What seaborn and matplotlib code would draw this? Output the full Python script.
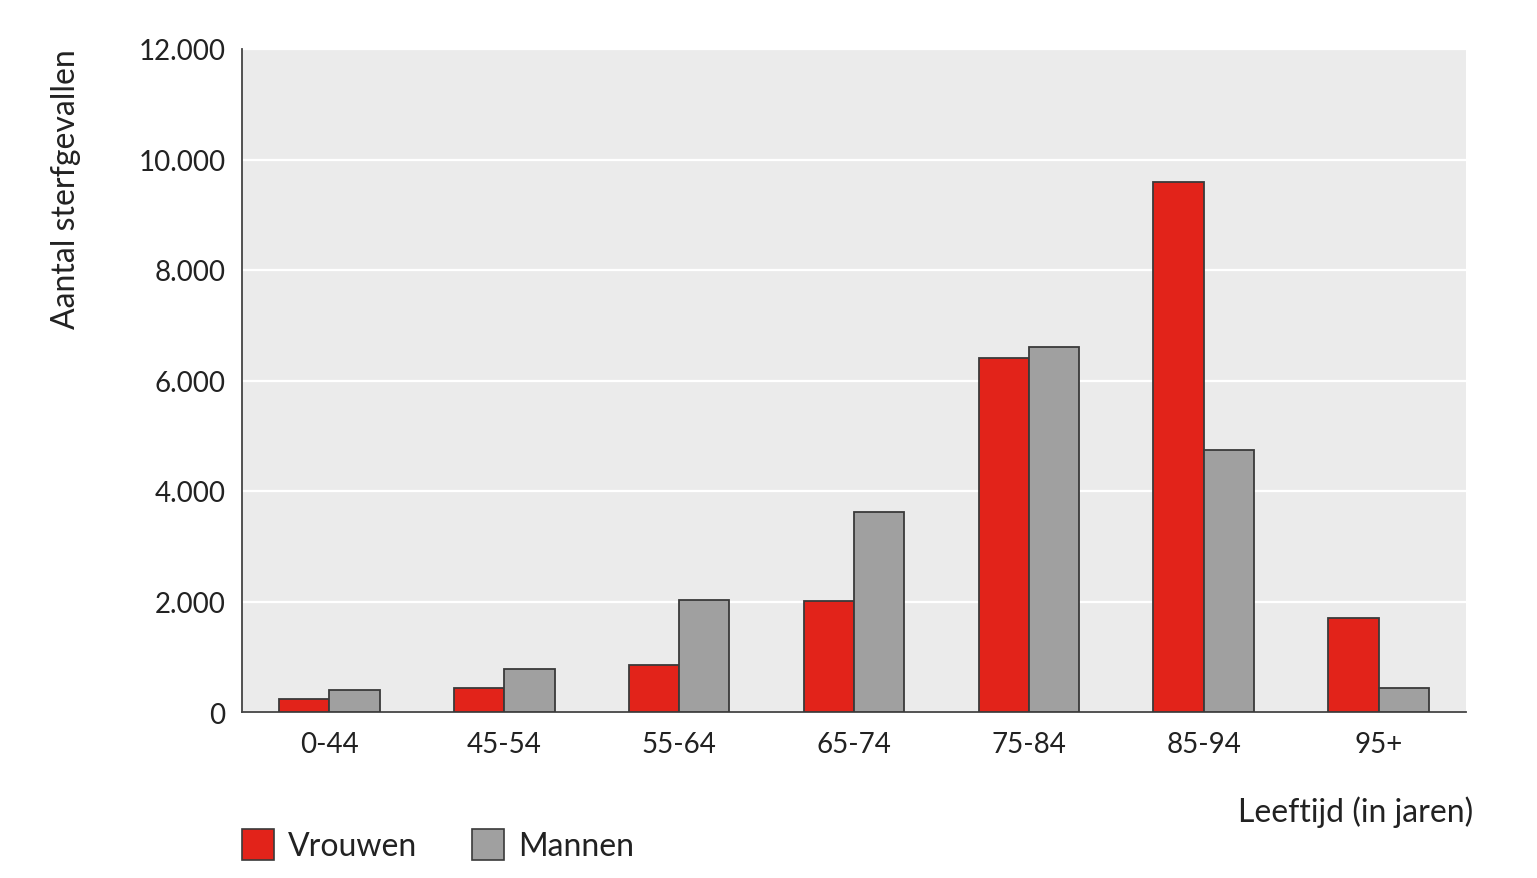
import matplotlib
matplotlib.use("Agg")
import matplotlib.pyplot as plt
from matplotlib.patches import Patch
from matplotlib.ticker import FuncFormatter, FixedLocator
import numpy as np
import pandas as pd
import seaborn as sns

# Sterfgevallen per leeftijdsgroep en geslacht
age_groups = ["0-44", "45-54", "55-64", "65-74", "75-84", "85-94", "95+"]
vrouwen = [230, 430, 850, 2010, 6410, 9600, 1710]
mannen = [400, 780, 2030, 3620, 6610, 4740, 440]
series_names = ["Vrouwen", "Mannen"]
y_ticks = [0, 2000, 4000, 6000, 8000, 10000, 12000]

RED = "#E2231A"
GREY = "#A0A0A0"
EDGE = "#3a3a3a"
TEXT = "#222222"

df = pd.DataFrame({
    "Leeftijd": age_groups * 2,
    "Aantal": vrouwen + mannen,
    "Geslacht": [series_names[0]] * len(age_groups) + [series_names[1]] * len(age_groups),
})

sns.set_theme(style="white")
plt.rcParams["font.family"] = ["Lato", "DejaVu Sans"]

fig = plt.figure(figsize=(15.37, 8.79), dpi=100)
ax = fig.add_axes([242 / 1537, 1 - 713 / 879, (1466 - 242) / 1537, (713 - 50) / 879])
ax.set_facecolor("#EBEBEB")

sns.barplot(
    data=df, x="Leeftijd", y="Aantal", hue="Geslacht", order=age_groups,
    hue_order=series_names, palette=[RED, GREY], saturation=1, width=0.575,
    edgecolor=EDGE, linewidth=1.3, legend=False, ax=ax, zorder=3,
)

ax.set_xlim(-0.5, len(age_groups) - 0.5)
ax.set_ylim(0, 12000)
ax.set_yticks(y_ticks)
ax.yaxis.set_major_formatter(FuncFormatter(lambda v, _: f"{int(v):,}".replace(",", ".")))
ax.grid(axis="y", color="white", linewidth=1.6, zorder=0)
ax.set_axisbelow(True)

# Category boundaries carry the x ticks; labels sit centred below each group
ax.xaxis.set_minor_locator(FixedLocator(np.arange(-0.5, len(age_groups) + 0.5, 1.0)))
ax.tick_params(axis="x", which="major", length=0, pad=14, labelsize=20, labelcolor=TEXT)
ax.tick_params(axis="x", which="minor", length=6, width=1.2, color="#444444", direction="out")
ax.tick_params(axis="y", which="major", length=7, width=1.2, color="#444444", direction="out",
               pad=5, labelsize=20, labelcolor=TEXT)

for side in ("top", "right"):
    ax.spines[side].set_visible(False)
for side in ("left", "bottom"):
    ax.spines[side].set_color("#444444")
    ax.spines[side].set_linewidth(1.3)

ax.set_xlabel("")
ax.set_ylabel("")
fig.text(66 / 1537, 1 - 189 / 879, "Aantal sterfgevallen", rotation=90,
         ha="center", va="center", fontsize=23, color=TEXT)
fig.text(1473 / 1537, 1 - 812 / 879, "Leeftijd (in jaren)",
         ha="right", va="center", fontsize=23, color=TEXT)

handles = [Patch(facecolor=RED, edgecolor=EDGE, linewidth=1.2),
           Patch(facecolor=GREY, edgecolor=EDGE, linewidth=1.2)]
fig.legend(handles, series_names, loc="center left",
           bbox_to_anchor=(242 / 1537, 1 - 846 / 879), ncol=2, frameon=False,
           fontsize=23, borderpad=0, borderaxespad=0,
           handlelength=1.0, handleheight=1.15, handletextpad=0.45,
           columnspacing=1.7, labelcolor=TEXT)

fig.savefig("out.png", dpi=100, facecolor="white")
